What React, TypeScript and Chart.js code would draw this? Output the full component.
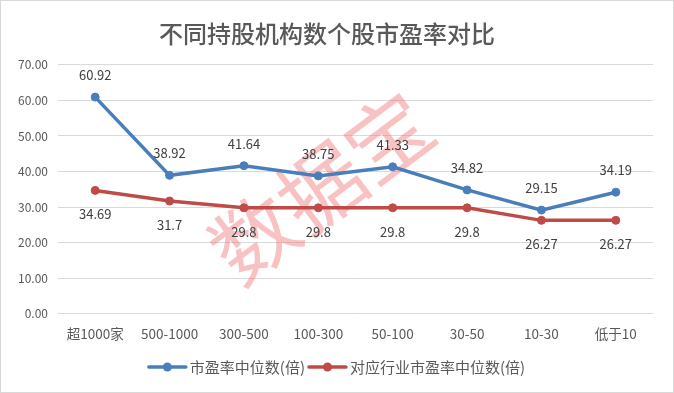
import React, { useEffect, useRef } from "react";
import { Chart, registerables } from "chart.js";

Chart.register(...registerables);

const TITLE = "不同持股机构数个股市盈率对比";
const categories = ["超1000家", "500-1000", "300-500", "100-300", "50-100", "30-50", "10-30", "低于10"];
const seriesPE = [60.92, 38.92, 41.64, 38.75, 41.33, 34.82, 29.15, 34.19];
const seriesIndustry = [34.69, 31.7, 29.8, 29.8, 29.8, 29.8, 26.27, 26.27];
const seriesNames = ["市盈率中位数(倍)", "对应行业市盈率中位数(倍)"];
const colors = ["#4a7ebb", "#be4b48"];
const WATERMARK = "数据宝";

const FONT = "'Noto Sans CJK SC', 'Noto Sans', sans-serif";

const labelPlugin = {
  id: "valueLabels",
  afterDatasetsDraw(chart: any) {
    const ctx = chart.ctx;
    ctx.save();
    ctx.font = `13px ${FONT}`;
    ctx.fillStyle = "#404040";
    ctx.textAlign = "center";
    ctx.textBaseline = "middle";
    chart.data.datasets.forEach((ds: any, di: number) => {
      const meta = chart.getDatasetMeta(di);
      meta.data.forEach((pt: any, i: number) => {
        const v = ds.data[i];
        const dy = di === 0 ? -22 : 24;
        ctx.fillText(String(v), pt.x, pt.y + dy);
      });
    });
    ctx.restore();
  },
};

const watermarkPlugin = {
  id: "watermark",
  beforeDatasetsDraw(chart: any) {
    const ctx = chart.ctx;
    ctx.save();
    ctx.translate(320, 186);
    ctx.rotate((-37 * Math.PI) / 180);
    ctx.font = `84px ${FONT}`;
    ctx.fillStyle = "rgba(240, 110, 110, 0.42)";
    ctx.textAlign = "center";
    ctx.textBaseline = "middle";
    ctx.fillText(WATERMARK, 0, 0);
    ctx.restore();
  },
};

const legendPlugin = {
  id: "customLegend",
  afterDraw(chart: any) {
    const ctx = chart.ctx;
    ctx.save();
    ctx.font = `15px ${FONT}`;
    ctx.textBaseline = "middle";
    const y = 366;
    const lineW = 37;
    const gap = 4;
    const itemGap = 4;
    const widths = seriesNames.map((n) => lineW + gap + ctx.measureText(n).width);
    const total = widths.reduce((a, b) => a + b, 0) + itemGap * (seriesNames.length - 1);
    let x = (chart.width - total) / 2;
    seriesNames.forEach((n, i) => {
      ctx.strokeStyle = colors[i];
      ctx.lineWidth = 3.5;
      ctx.lineCap = "round";
      ctx.beginPath();
      ctx.moveTo(x, y);
      ctx.lineTo(x + lineW, y);
      ctx.stroke();
      ctx.fillStyle = colors[i];
      ctx.beginPath();
      ctx.arc(x + lineW / 2, y, 4.5, 0, Math.PI * 2);
      ctx.fill();
      ctx.fillStyle = "#595959";
      ctx.textAlign = "left";
      ctx.fillText(n, x + lineW + gap, y);
      x += widths[i] + itemGap;
    });
    ctx.restore();
  },
};

export default function App() {
  const ref = useRef<HTMLCanvasElement>(null);
  useEffect(() => {
    const chart = new Chart(ref.current!, {
      type: "line",
      data: {
        labels: categories,
        datasets: [
          {
            label: seriesNames[0],
            data: seriesPE,
            borderColor: colors[0],
            backgroundColor: colors[0],
            borderWidth: 3.5,
            pointRadius: 4,
            pointBorderWidth: 1,
            pointBackgroundColor: colors[0],
            pointBorderColor: colors[0],
            tension: 0,
          },
          {
            label: seriesNames[1],
            data: seriesIndustry,
            borderColor: colors[1],
            backgroundColor: colors[1],
            borderWidth: 3.5,
            pointRadius: 4,
            pointBorderWidth: 1,
            pointBackgroundColor: colors[1],
            pointBorderColor: colors[1],
            tension: 0,
          },
        ],
      },
      options: {
        animation: false,
        responsive: false,
        maintainAspectRatio: false,
        layout: { padding: { left: 0, right: 20, top: 0, bottom: 46 } },
        plugins: {
          legend: { display: false },
          tooltip: { enabled: false },
          title: {
            display: true,
            text: TITLE,
            color: "#595959",
            font: { family: FONT, size: 24, weight: "500" },
            padding: { top: 18, bottom: 17 },
          },
        },
        scales: {
          x: {
            offset: true,
            grid: { display: false },
            border: { display: false },
            ticks: {
              color: "#595959",
              font: { family: FONT, size: 13.5 },
              maxRotation: 0,
              autoSkip: false,
              padding: 4,
            },
          },
          y: {
            min: 0,
            max: 70,
            afterFit: (s: any) => {
              s.width = 57;
            },
            grid: { color: "#d9d9d9", lineWidth: 1, drawTicks: false },
            border: { display: false },
            ticks: {
              stepSize: 10,
              color: "#595959",
              font: { family: FONT, size: 12 },
              padding: 10,
              callback: (v: any) => Number(v).toFixed(2),
            },
          },
        },
      },
      plugins: [watermarkPlugin, labelPlugin, legendPlugin],
    });
    return () => chart.destroy();
  }, []);
  return (
    <div
      style={{
        position: "fixed",
        left: 0,
        top: 0,
        width: 674,
        height: 393,
        boxSizing: "border-box",
        border: "1px solid #d9d9d9",
        background: "#fff",
      }}
    >
      <canvas ref={ref} width={672} height={391} style={{ display: "block" }} />
    </div>
  );
}
